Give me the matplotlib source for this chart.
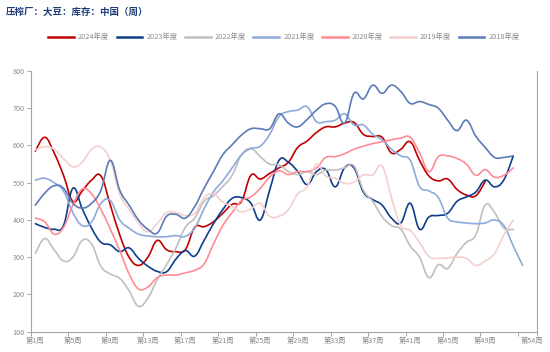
import numpy as np
import matplotlib
matplotlib.use("Agg")
import matplotlib.pyplot as plt
from matplotlib.path import Path
from matplotlib.patches import PathPatch
from matplotlib.lines import Line2D

plt.rcParams['font.family'] = ['Noto Sans CJK SC', 'DejaVu Sans']

# -------- data (weekly stock) --------
weeks = list(range(1, 55))
week_labels = [f"第{w}周" for w in weeks]
years = ["2024年度", "2023年度", "2022年度", "2021年度", "2020年度", "2019年度", "2018年度"]

y2024 = [585, 622, 580, 520, 450, 478, 507, 518, 440, 360,
         300, 278, 300, 345, 320, 315, 320, 380, 382, 395,
         418, 442, 450, 520, 510, 525, 540, 555, 595, 612,
         635, 650, 650, 660, 662, 630, 624, 622, 580, 590,
         610, 560, 518, 505, 510, 482, 467, 465, 503]
y2023 = [390, 380, 375, 385, 485, 430, 378, 340, 333, 315,
         325, 297, 276, 262, 261, 295, 318, 303, 345, 390,
         428, 458, 460, 445, 400, 480, 560, 555, 530, 495,
         530, 535, 489, 540, 540, 475, 455, 440, 405, 392,
         445, 375, 408, 412, 418, 450, 462, 475, 507, 489,
         508, 572]
y2022 = [311, 350, 320, 290, 300, 345, 335, 275, 255, 243,
         210, 168, 190, 240, 280, 325, 380, 405, 450, 465,
         490, 520, 575, 592, 570, 550, 548, 530, 522, 530,
         522, 534, 534, 540, 545, 480, 450, 409, 385, 375,
         330, 300, 245, 280, 270, 310, 340, 360, 440, 420,
         378, 375]
y2021 = [507, 512, 500, 478, 420, 385, 395, 445, 452, 400,
         378, 362, 357, 355, 355, 358, 356, 378, 430, 475,
         505, 540, 575, 592, 598, 630, 678, 691, 695, 704,
         664, 664, 668, 685, 655, 655, 630, 615, 590, 572,
         560, 490, 478, 460, 405, 395, 392, 390, 392, 400,
         385, 330, 278]
y2020 = [405, 395, 362, 380, 440, 483, 470, 428, 375, 318,
         255, 215, 220, 245, 252, 252, 258, 265, 282, 335,
         385, 420, 452, 462, 485, 515, 532, 522, 530, 530,
         540, 568, 570, 578, 590, 598, 605, 610, 615, 620,
         622, 580, 530, 570, 572, 565, 550, 520, 535, 515,
         520, 540]
y2019 = [588, 597, 590, 565, 543, 555, 590, 595, 560, 470,
         428, 392, 368, 390, 420, 420, 412, 418, 460, 470,
         448, 436, 422, 430, 445, 410, 410, 428, 470, 489,
         550, 518, 512, 498, 502, 521, 521, 545, 460, 385,
         372, 340, 302, 297, 298, 300, 297, 278, 290, 310,
         360, 400]
y2018 = [440, 472, 492, 485, 445, 432, 445, 480, 560, 480,
         440, 400, 375, 365, 410, 415, 405, 436, 485, 530,
         575, 602, 628, 645, 645, 645, 685, 660, 650, 670,
         695, 712, 705, 660, 740, 725, 762, 740, 762, 745,
         713, 718, 710, 700, 668, 640, 668, 625, 595, 568,
         568, 572]

series = [y2024, y2023, y2022, y2021, y2020, y2019, y2018]
colors = ["#c00000", "#0f3d8c", "#bfbfbf", "#8eaadb", "#ff8b95", "#f4cfcf", "#5a7bb6"]


def smooth_path(xs, ys, s=0.2):
    pts = np.column_stack([xs, ys]).astype(float)
    n = len(pts)
    verts = [pts[0]]
    codes = [Path.MOVETO]
    for i in range(n - 1):
        p0 = pts[max(i - 1, 0)]
        p1 = pts[i]
        p2 = pts[i + 1]
        p3 = pts[min(i + 2, n - 1)]
        verts += [p1 + (p2 - p0) * s, p2 - (p3 - p1) * s, p2]
        codes += [Path.CURVE4] * 3
    return Path(verts, codes)


fig = plt.figure(figsize=(5.5, 3.52), dpi=100)
ax = fig.add_axes([30.7 / 550, 20.3 / 352, 506 / 550, 260.7 / 352])

for i, (vals, col) in enumerate(zip(series, colors)):
    xs = weeks[:len(vals)]
    patch = PathPatch(smooth_path(xs, vals), facecolor="none", edgecolor=col,
                      lw=1.2, zorder=2 + i, capstyle="round", joinstyle="round")
    ax.add_patch(patch)

ax.set_xlim(0.5, 54.5)
ax.set_ylim(100, 800)

grey = "#a6a6a6"
for side in ["left", "bottom", "right"]:
    ax.spines[side].set_color(grey)
    ax.spines[side].set_linewidth(0.8)
ax.spines["top"].set_visible(False)

ax.set_yticks(range(100, 801, 100))
ax.tick_params(axis="y", length=3, width=0.7, color=grey, labelsize=5.2,
               labelcolor="#8c8c8c", pad=1.5)

label_idx = list(range(0, 49, 4)) + [53]
ax.set_xticks([weeks[i] for i in label_idx])
ax.set_xticklabels([week_labels[i] for i in label_idx])
ax.set_xticks([w - 0.5 for w in range(1, 54, 4)] + [54.5], minor=True)
ax.tick_params(axis="x", which="major", length=0, labelsize=5.2,
               labelcolor="#8c8c8c", pad=4)
ax.tick_params(axis="x", which="minor", length=3, width=0.7, color=grey)

fig.text(6 / 550, 1 - 12 / 352, "压榨厂：大豆：库存：中国（周）", fontsize=6.8,
         fontweight="bold", color="#1f3d7a", va="center", ha="left")

handles = [Line2D([], [], color=c, lw=1.8) for c in colors]
fig.legend(handles, years, loc="center", bbox_to_anchor=(284 / 550, 1 - 37.5 / 352),
           ncol=7, frameon=False, fontsize=5.3, labelcolor="#8c8c8c",
           handlelength=3.5, handletextpad=0.55, columnspacing=1.0,
           borderpad=0, borderaxespad=0)

fig.savefig("out.png", dpi=100)
